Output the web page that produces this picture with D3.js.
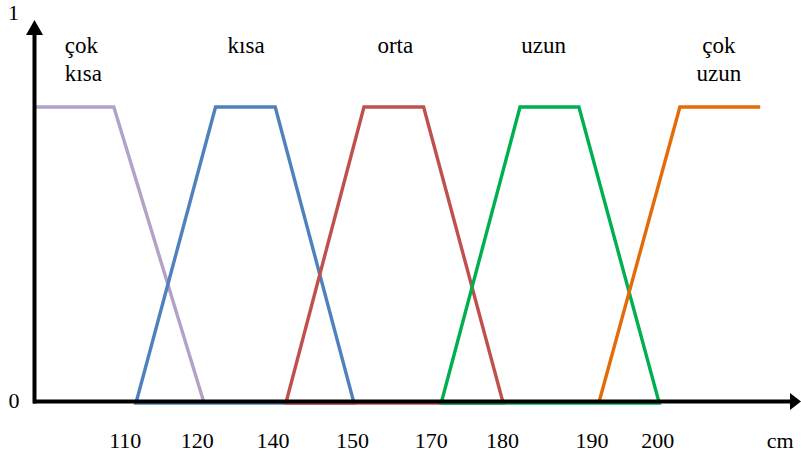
<!DOCTYPE html>
<html>
<head>
<meta charset="utf-8">
<script src="https://cdn.jsdelivr.net/npm/d3@7"></script>
<style>
  html, body { margin: 0; padding: 0; background: #fff; }
  svg { display: block; }
</style>
</head>
<body>
<svg id="chart" width="801" height="460"></svg>
<script>
// ---- data (x in diagram units 0..100 along the horizontal axis, y = membership 0..1) ----
const seriesNames = ["çok kısa", "kısa", "orta", "uzun", "çok uzun"];
const cokKisaX = [0, 10.3, 22.1];
const cokKisaY = [1, 1, 0];
const kisaX = [13.2, 23.6, 31.4, 41.7];
const kisaY = [0, 1, 1, 0];
const ortaX = [32.8, 43.0, 50.8, 61.2];
const ortaY = [0, 1, 1, 0];
const uzunX = [53.1, 63.4, 71.1, 81.6];
const uzunY = [0, 1, 1, 0];
const cokUzunX = [73.7, 84.3, 94.8];
const cokUzunY = [0, 1, 1];
const closedShape = [false, true, true, true, false];
const colors = ["#b3a2c7", "#4f81bd", "#c0504d", "#00b050", "#e36c09"];

// category labels (x position in diagram units)
const labelLines = [["çok", "kısa"], ["kısa"], ["orta"], ["uzun"], ["çok", "uzun"]];
const labelX = [3.9, 27.6, 47.1, 66.5, 89.4];

// x tick labels and their positions in diagram units
const tickLabels = ["110", "120", "140", "150", "170", "180", "190", "200"];
const tickPos = [11.8, 21.2, 31.1, 41.5, 51.8, 61.1, 72.8, 81.4];
const unitLabel = "cm";
const unitPos = [97.4];

// ---- layout ----
const FONT = "Liberation Serif";
const svg = d3.select("#chart");
const x = d3.scaleLinear().domain([0, 100]).range([35, 800]);
const y = d3.scaleLinear().domain([0, 1]).range([403, 107]);

const xs = [cokKisaX, kisaX, ortaX, uzunX, cokUzunX];
const ys = [cokKisaY, kisaY, ortaY, uzunY, cokUzunY];

const line = d3.line().x(d => x(d[0])).y(d => y(d[1]));

seriesNames.forEach((name, i) => {
  let pts = xs[i].map((v, j) => [v, ys[i][j]]);
  const path = line(pts) + (closedShape[i] ? "Z" : "");
  svg.append("path")
    .attr("d", path)
    .attr("fill", "none")
    .attr("stroke", colors[i])
    .attr("stroke-width", 3.4)
    .attr("stroke-linejoin", "miter");
});

// axes
const axisY = 401.5;
svg.append("line")
  .attr("x1", x(0) - 2).attr("x2", 791)
  .attr("y1", axisY).attr("y2", axisY)
  .attr("stroke", "#000").attr("stroke-width", 4);
svg.append("path")
  .attr("d", `M790,393 L801,${axisY} L790,410 Z`)
  .attr("fill", "#000");

svg.append("line")
  .attr("x1", 34.5).attr("x2", 34.5)
  .attr("y1", axisY + 2).attr("y2", 34)
  .attr("stroke", "#000").attr("stroke-width", 4);
svg.append("path")
  .attr("d", `M26,35 L34.5,20 L43,35 Z`)
  .attr("fill", "#000");

function txt(g, t, px, py, size, anchor) {
  return g.append("text")
    .attr("x", px).attr("y", py)
    .attr("font-family", FONT)
    .attr("font-size", size)
    .attr("fill", "#000")
    .attr("text-anchor", anchor)
    .text(t);
}

// y labels
const yLabels = svg.append("g");
txt(yLabels, "1", 13.5, 20, 22, "middle");
txt(yLabels, "0", 14, 408, 22, "middle");

// x tick labels
const ticks = svg.append("g");
tickLabels.forEach((d, i) => txt(ticks, d, x(tickPos[i]), 448, 22, "middle"));
txt(ticks, unitLabel, x(unitPos[0]), 448, 22, "middle");

// category labels
const cats = svg.append("g");
labelLines.forEach((lines, i) => {
  lines.forEach((t, k) => {
    txt(cats, t, x(labelX[i]), 53 + k * 28, 23, i === 0 ? "start" : "middle");
  });
});
</script>
</body>
</html>
